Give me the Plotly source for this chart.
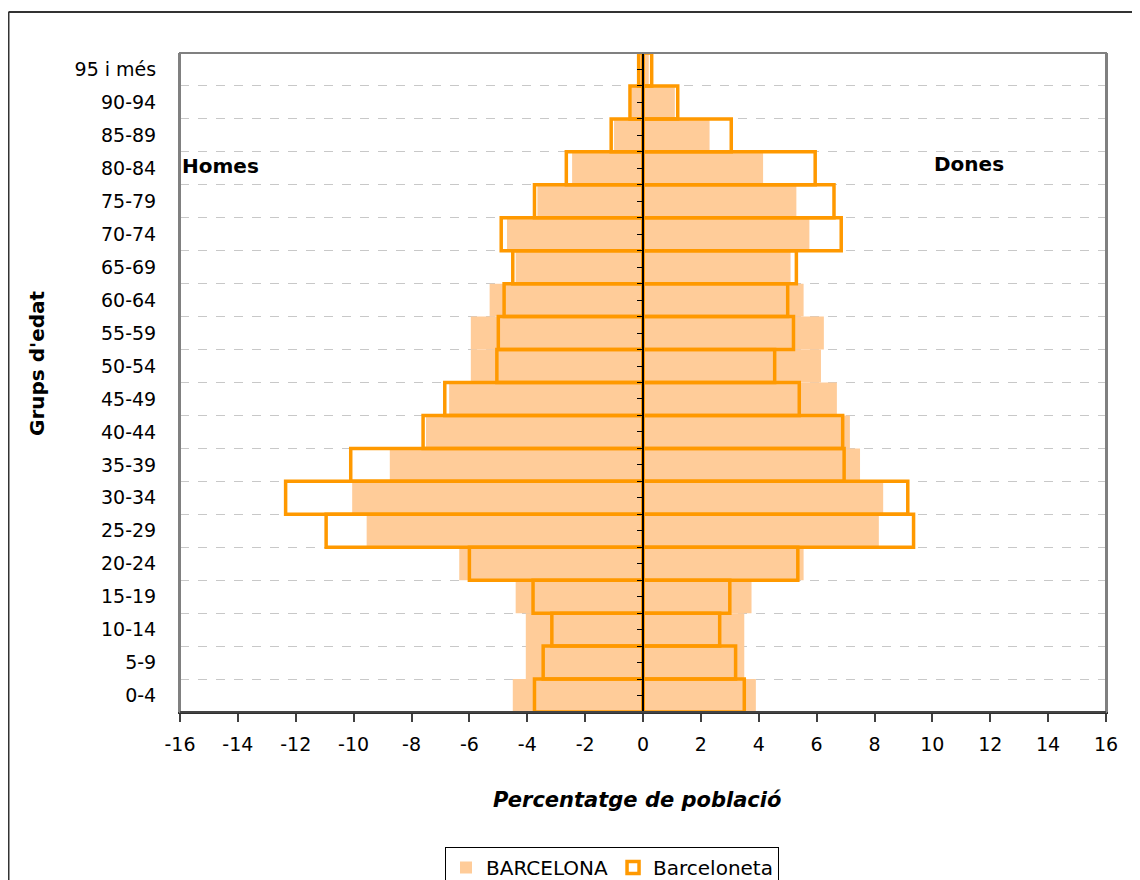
import plotly.graph_objects as go

age_groups = ["0-4", "5-9", "10-14", "15-19", "20-24", "25-29", "30-34", "35-39",
              "40-44", "45-49", "50-54", "55-59", "60-64", "65-69", "70-74",
              "75-79", "80-84", "85-89", "90-94", "95 i més"]

bcn_men = [-4.5, -4.05, -4.05, -4.4, -6.35, -9.55, -10.05, -8.75, -7.5, -6.7,
           -5.95, -5.95, -5.3, -4.4, -4.7, -3.65, -2.45, -1.0, -0.4, -0.1]
bcn_women = [3.9, 3.5, 3.5, 3.75, 5.55, 8.15, 8.3, 7.5, 7.15, 6.7,
             6.15, 6.25, 5.55, 5.1, 5.75, 5.3, 4.15, 2.3, 1.1, 0.2]
bcta_men = [-3.75, -3.45, -3.15, -3.8, -6.0, -10.95, -12.35, -10.1, -7.6, -6.85,
            -5.05, -5.0, -4.8, -4.5, -4.9, -3.75, -2.65, -1.1, -0.45, -0.15]
bcta_women = [3.5, 3.2, 2.65, 3.0, 5.35, 9.35, 9.15, 6.95, 6.9, 5.4,
              4.55, 5.2, 5.0, 5.3, 6.85, 6.6, 5.95, 3.05, 1.2, 0.3]

x_ticks = list(range(-16, 17, 2))

FONT = "Verdana, DejaVu Sans, sans-serif"
PEACH = "#FFCC99"
ORANGE = "#FF9900"

fig = go.Figure()

fig.add_trace(go.Bar(y=age_groups, x=bcn_men, orientation="h", name="BARCELONA",
                     legendgroup="bcn", showlegend=True, width=1,
                     marker=dict(color=PEACH, line=dict(width=0))))
fig.add_trace(go.Bar(y=age_groups, x=bcn_women, orientation="h", name="BARCELONA",
                     legendgroup="bcn", showlegend=False, width=1,
                     marker=dict(color=PEACH, line=dict(width=0))))
fig.add_trace(go.Bar(y=age_groups, x=bcta_men, orientation="h", name="Barceloneta",
                     legendgroup="bcta", showlegend=True, width=1,
                     marker=dict(color="rgba(0,0,0,0)", line=dict(color=ORANGE, width=3.5))))
fig.add_trace(go.Bar(y=age_groups, x=bcta_women, orientation="h", name="Barceloneta",
                     legendgroup="bcta", showlegend=False, width=1,
                     marker=dict(color="rgba(0,0,0,0)", line=dict(color=ORANGE, width=3.5))))

# invisible helper trace for the central category axis (ticks at x = 0)
fig.add_trace(go.Scatter(x=[0], y=[0], yaxis="y2", mode="markers",
                         marker=dict(opacity=0), showlegend=False, hoverinfo="skip"))

# page body has an 8px margin: screen pixel s -> figure pixel s - 8
OFF = 8
W, H = 1132, 872
PL, PR, PT, PB = 180, 1106, 53, 712          # plot area in screen pixels
L, R, T, B = PL - OFF, W - (PR - OFF), PT - OFF, H - (PB - OFF)
pw = PR - PL
ph = PB - PT


def px(xs):
    return (xs - PL) / pw


def py(ys):
    return (PB - ys) / ph


fig.update_layout(
    width=W, height=H,
    margin=dict(l=L, r=R, t=T, b=B, autoexpand=False),
    paper_bgcolor="white", plot_bgcolor="white",
    barmode="overlay",
    font=dict(family=FONT, size=18, color="black"),
    xaxis=dict(range=[-16, 16], tickvals=x_ticks, ticktext=[str(v) for v in x_ticks],
               ticks="outside", ticklen=8, tickcolor="#404040", tickwidth=1.5,
               showline=True, linecolor="#303030", linewidth=1.5,
               showgrid=False, zeroline=False,
               tickfont=dict(family=FONT, size=19), ticklabelstandoff=6),
    yaxis=dict(type="category", categoryorder="array", categoryarray=age_groups,
               range=[-0.5, len(age_groups) - 0.5],
               tickson="boundaries", ticks="", showgrid=True,
               gridcolor="#C8C8C8", griddash="dash", gridwidth=1,
               showline=True, linecolor="#808080", linewidth=2, mirror=True,
               zeroline=False, tickfont=dict(family=FONT, size=19),
               ticklabelstandoff=18),
    yaxis2=dict(overlaying="y", anchor="free", position=0.5,
                range=[-0.5, len(age_groups) - 0.5], dtick=0.5, tick0=-0.5,
                ticks="outside", ticklen=5, tickcolor="black", tickwidth=1,
                showticklabels=False, showgrid=False, zeroline=False,
                showline=True, linecolor="black", linewidth=1.5),
    legend=dict(orientation="h", x=px(445), y=py(847), xanchor="left", yanchor="top",
                bordercolor="black", borderwidth=1, bgcolor="white",
                font=dict(family=FONT, size=20), traceorder="normal",
                itemwidth=30, tracegroupgap=0),
    showlegend=True,
)

# plot frame (gray) and outer chart border (top and left edges visible)
fig.add_shape(type="rect", xref="x domain", yref="y domain", x0=0, x1=1, y0=0, y1=1,
              line=dict(color="#808080", width=2), layer="above")
fig.add_shape(type="line", xref="x domain", yref="y domain", x0=0, x1=1, y0=0, y1=0,
              line=dict(color="#303030", width=1.5), layer="above")
fig.add_shape(type="line", xref="paper", yref="paper",
              x0=px(8.5), x1=px(1200), y0=py(12), y1=py(12),
              line=dict(color="#333333", width=2), layer="above")
fig.add_shape(type="line", xref="paper", yref="paper",
              x0=px(8.5), x1=px(8.5), y0=py(12), y1=py(920),
              line=dict(color="#333333", width=2), layer="above")

fig.add_annotation(text="<b>Homes</b>", x=px(180), y=py(166), xref="paper", yref="paper",
                   xanchor="left", yanchor="middle", showarrow=False,
                   font=dict(family=FONT, size=20))
fig.add_annotation(text="<b>Dones</b>", x=px(932), y=py(164), xref="paper", yref="paper",
                   xanchor="left", yanchor="middle", showarrow=False,
                   font=dict(family=FONT, size=20))
fig.add_annotation(text="<b><i>Percentatge de població</i></b>", x=px(637), y=py(800),
                   xref="paper", yref="paper", xanchor="center", yanchor="middle",
                   showarrow=False, font=dict(family=FONT, size=21))
fig.add_annotation(text="<b>Grups d'edat</b>", x=px(37), y=py(363),
                   xref="paper", yref="paper", xanchor="center", yanchor="middle",
                   textangle=-90, showarrow=False, font=dict(family=FONT, size=20))

fig.write_html("out.html")
